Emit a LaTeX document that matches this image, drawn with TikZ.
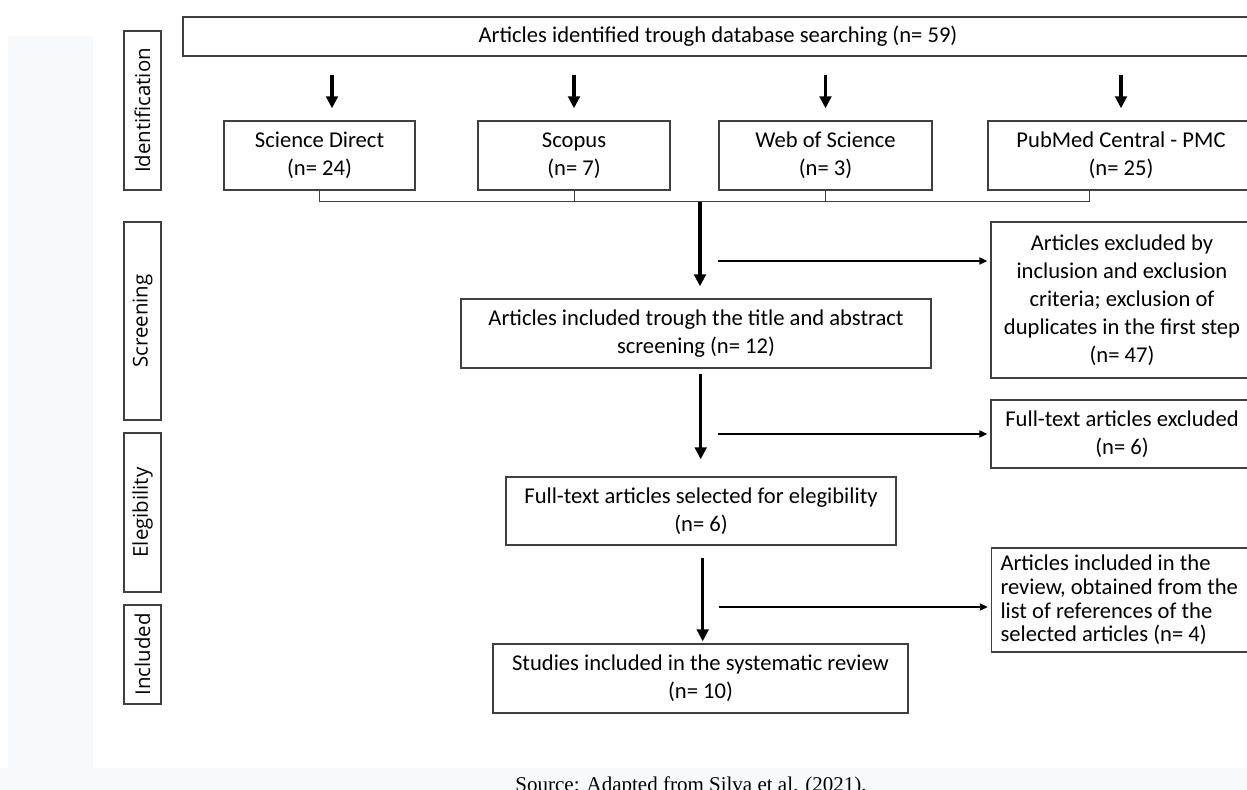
\documentclass[tikz,border=0pt]{standalone}
\usepackage{fontspec}
\setmainfont{Carlito}
\newfontfamily\timesf{Liberation Serif}
\newfontfamily\sidef{Open Sans}
\usetikzlibrary{arrows.meta}
\definecolor{bggray}{HTML}{F8F9FA}
\definecolor{boxline}{HTML}{404040}
\begin{document}
\begin{tikzpicture}[x=0.5pt,y=-0.5pt,
  box/.style={draw=boxline, line width=0.65pt, fill=white, inner sep=0pt,
    font=\fontsize{11.3}{14}\selectfont, align=center},
  sidebox/.style={box, rotate=90, minimum height=18.5pt, font=\sidef\fontsize{10.2}{12}\selectfont},
  thickarrow/.style={line width=1.7pt, -{Triangle[length=6pt,width=5.8pt]}},
  thinarrow/.style={line width=0.9pt, -{Triangle[length=4pt,width=3.5pt]}},
  bracketline/.style={draw=boxline, line width=0.5pt}
]
\useasboundingbox (0,0) rectangle (1247,790);
\fill[white] (0,0) rectangle (1247,790);
\fill[bggray] (8,36) rectangle (93,768);
\fill[bggray] (0,768) rectangle (1247,790);

% side labels
\node[sidebox, minimum width=79.5pt] (sid) at (142.5,110.5) {Identification};
\node[sidebox, minimum width=99pt] (sscr) at (142.5,321) {Screening};
\node[sidebox, minimum width=79.5pt] (seli) at (142.5,512.5) {Elegibility};
\node[sidebox, minimum width=49.5pt] (sinc) at (142.5,654.5) {Included};

% top box
\node[box, minimum width=535pt, minimum height=19.5pt] (top) at (718,36.5)
  {Articles identified trough database searching (n= 59)};

% sources
\node[box, minimum width=95.5pt, minimum height=34.5pt] (sd) at (319.5,155.5) {Science Direct\\(n= 24)};
\node[box, minimum width=96pt, minimum height=34.5pt] (sc) at (574,155.5) {Scopus\\(n= 7)};
\node[box, minimum width=106.5pt, minimum height=34.5pt] (ws) at (825.5,155.5) {Web of Science\\(n= 3)};
\node[box, minimum width=133pt, minimum height=34.5pt] (pm) at (1121,155.5) {PubMed Central - PMC\\(n= 25)};

% arrows from top box
\foreach \n/\dx in {sd/6.25pt, sc/0pt, ws/0pt, pm/0pt}{
  \draw[thickarrow, shorten <=9pt, shorten >=6pt]
    ([xshift=\dx]\n.north |- top.south) -- ([xshift=\dx]\n.north);
}

% bracket
\coordinate (brk) at (700,202);
\draw[bracketline] (sd.south) -- (sd.south |- brk) -- ([xshift=-16pt]pm.south |- brk) -- ([xshift=-16pt]pm.south);
\draw[bracketline] (sc.south) -- (sc.south |- brk);
\draw[bracketline] (ws.south) -- (ws.south |- brk);

% main flow
\node[box, minimum width=235pt, minimum height=34.5pt] (scr) at (696,333.5)
  {Articles included trough the title and abstract\\screening (n= 12)};
\node[box, minimum width=195pt, minimum height=34pt] (eli) at (701,511)
  {Full-text articles selected for elegibility\\(n= 6)};
\node[box, minimum width=207.5pt, minimum height=34.5pt] (inc) at (700.5,678.5)
  {Studies included in the systematic review\\(n= 10)};

% right boxes
\node[box, minimum width=131pt, minimum height=78pt] (ex1) at (1122,300)
  {Articles excluded by\\inclusion and exclusion\\criteria; exclusion of\\duplicates in the first step\\(n= 47)};
\node[box, minimum width=131pt, minimum height=34pt] (ex2) at (1122,434)
  {Full-text articles excluded\\(n= 6)};
\node[box, minimum height=52pt, text width=124pt, inner xsep=4.5pt, align=flush left,
  font=\fontsize{11.3}{11.8}\selectfont] (add) at (1124.5,600)
  {Articles included in the\\review, obtained from the\\list of references of the\\selected articles (n= 4)};

% vertical arrows
\draw[thickarrow, shorten >=6pt] (brk) -- (brk |- scr.north);
\coordinate (v2) at (700.7,374);
\draw[thickarrow, shorten >=8.5pt] (v2) -- (v2 |- eli.north);
\coordinate (v3) at (702.7,558);
\draw[thickarrow, shorten >=1pt] (v3) -- (v3 |- inc.north);

% horizontal arrows
\coordinate (h1) at (718,261);
\draw[thinarrow, shorten >=1.5pt] (h1) -- (h1 -| ex1.west);
\coordinate (h2) at (718,434);
\draw[thinarrow, shorten >=1.5pt] (h2) -- (h2 -| ex2.west);
\coordinate (h3) at (719,607);
\draw[thinarrow, shorten >=1.5pt] (h3) -- (h3 -| add.west);

% source
\node[font=\timesf\fontsize{10.5}{12}\selectfont, anchor=base, inner sep=0pt] (src) at (691,791)
  {Source: Adapted from Silva et al. (2021).};
\end{tikzpicture}
\end{document}
